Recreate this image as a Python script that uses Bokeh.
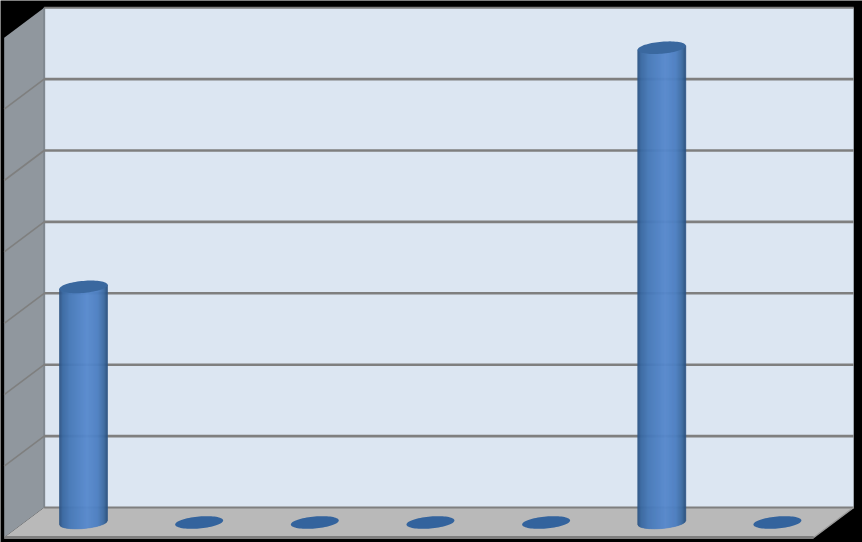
import numpy as np
from bokeh.plotting import figure
from bokeh.embed import file_html
from bokeh.resources import INLINE

categories = [0, 1, 2, 3, 4, 5, 6]
values = [3.3, 0, 0, 0, 0, 6.65, 0]
grid_levels = [1, 2, 3, 4, 5, 6]
axis_max = 7

WALL = "#dce6f2"
SIDE = "#90979e"
FLOOR = "#b9b9b9"
GRID = "#7f7f7f"
CAP = "#3a689f"
FLAT = "#33639d"

px_x, px_y = 115.65, 71.4
dx, dy = 20 / px_x, 15 / px_y
lo, hi = -0.513, 6.487
half = 24 / px_x
minor = 6 / px_y
tilt = 2 / px_y

p = figure(width=862, height=542, output_backend="svg", toolbar_location=None,
           x_range=(-83 / px_x, (862 - 83) / px_x), y_range=(-20 / px_y, 522 / px_y),
           x_axis_type=None, y_axis_type=None, min_border=0,
           background_fill_color="#000000", border_fill_color="#000000", outline_line_color=None)
p.grid.visible = False
p.styles = {"position": "fixed", "left": "0px", "top": "0px"}

# walls and floor
p.patch([lo + dx, hi + dx, hi + dx, lo + dx], [dy, dy, axis_max + dy, axis_max + dy],
        fill_color=WALL, line_color=None)
p.patch([lo - dx, lo + dx, lo + dx, lo - dx], [-dy, dy, axis_max + dy, axis_max - dy],
        fill_color=SIDE, line_color=None)
p.patch([lo + dx, hi + dx, hi - dx, lo - dx], [dy, dy, -dy, -dy],
        fill_color=FLOOR, line_color=None)

# outline of wall and floor
p.line([lo + dx, lo + dx], [0 + dy, axis_max + dy], line_color="#808890", line_width=2)
p.line([lo + dx, hi + dx], [axis_max + dy, axis_max + dy], line_color=GRID, line_width=2)
p.line([lo + dx, hi + dx], [dy, dy], line_color=GRID, line_width=2)
p.line([lo - dx, hi - dx], [-dy, -dy], line_color=GRID, line_width=3)
p.line([hi + dx, hi - dx], [dy, -dy], line_color="#9a9a9a", line_width=1.5)

# gridlines on back and side wall
for g in grid_levels:
    p.line([lo + dx, hi + dx], [g + dy, g + dy], line_color=GRID, line_width=2.6)
    p.line([lo - dx, lo + dx], [g - dy, g + dy], line_color=GRID, line_width=1.6)


def shade(u):
    stops_u = [-1, -0.85, -0.55, 0.15, 0.6, 0.85, 1]
    r = np.interp(u, stops_u, [0x2d, 0x3a, 0x47, 0x58, 0x4e, 0x3e, 0x2c])
    g = np.interp(u, stops_u, [0x52, 0x69, 0x79, 0x8a, 0x80, 0x6c, 0x52])
    b = np.interp(u, stops_u, [0x80, 0xa2, 0xb8, 0xce, 0xc2, 0xa3, 0x80])
    return "#%02x%02x%02x" % (int(r), int(g), int(b))


# cylinders
theta = np.linspace(0, 2 * np.pi, 73)
edges = np.linspace(-1, 1, 49)
for cat, val in zip(categories, values):
    if val > 0:
        xs, ys, cols = [], [], []
        for u0, u1 in zip(edges[:-1], edges[1:]):
            low0 = tilt * u0 - minor * np.sqrt(max(1 - u0 ** 2, 0))
            low1 = tilt * u1 - minor * np.sqrt(max(1 - u1 ** 2, 0))
            xs.append([cat + half * u0, cat + half * u1, cat + half * u1, cat + half * u0])
            ys.append([low0, low1, val + tilt * u1, val + tilt * u0])
            cols.append(shade((u0 + u1) / 2))
        p.patches(xs, ys, fill_color=cols, line_color=cols, line_width=0.6)
    ex = cat + half * np.cos(theta)
    ey = val + tilt * np.cos(theta) + minor * np.sin(theta)
    p.patch(list(ex), list(ey), fill_color=CAP if val > 0 else FLAT, line_color=None)

open("out.html", "w").write(file_html(p, INLINE))
